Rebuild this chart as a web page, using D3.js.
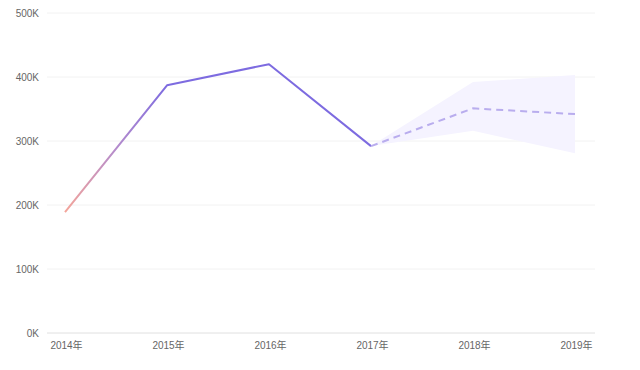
<!DOCTYPE html>
<html><head><meta charset="utf-8">
<script src="https://cdn.jsdelivr.net/npm/d3@7/dist/d3.min.js"></script>
<style>body{margin:0;background:#fff}svg{display:block}</style>
</head><body>
<svg id="c" width="640" height="370"></svg>
<script>
const years = ["2014年","2015年","2016年","2017年","2018年","2019年"];
const actual = [189000, 387000, 420000, 292000];
const forecast = [292000, 351000, 342000];
const bandUpper = [292000, 392000, 403000];
const bandLower = [292000, 316000, 281000];
const yTicks = [0, 100000, 200000, 300000, 400000, 500000];

(function () {
const svg = d3.select("#c");
const mLeft = 47, mRight = 595, mTop = 13, mBottom = 333;
const x = d3.scalePoint().domain(years).range([65, 575]);
const y = d3.scaleLinear().domain([0, 500000]).range([mBottom, mTop]);

// grid
svg.append("g").selectAll("line").data(yTicks).join("line")
  .attr("x1", mLeft).attr("x2", mRight)
  .attr("y1", d => y(d)).attr("y2", d => y(d))
  .attr("stroke", d => d === 0 ? "#e0e0e0" : "#f2f2f2").attr("stroke-width", 1);

// y labels
const yAxis = d3.axisLeft(y).tickValues(yTicks).tickSize(0).tickPadding(0)
  .tickFormat(d => (d / 1000) + "K");
const ga = svg.append("g").attr("transform", `translate(39,0)`).call(yAxis);
ga.select(".domain").remove();
ga.selectAll("text").attr("fill", "#666").attr("font-size", 10)
  .attr("font-family", "Helvetica, Arial, 'Noto Sans CJK SC', sans-serif");

// x labels
const xAxis = d3.axisBottom(x).tickSize(0).tickPadding(0);
const gx = svg.append("g").attr("transform", `translate(1,${mBottom + 9})`).call(xAxis);
gx.select(".domain").remove();
gx.selectAll("text").attr("fill", "#666").attr("font-size", 10)
  .attr("font-family", "Helvetica, Arial, 'Noto Sans CJK SC', sans-serif");

// band
const fYears = years.slice(3);
const area = d3.area().x((d, i) => x(fYears[i])).y0((d, i) => y(bandLower[i])).y1(d => y(d));
svg.append("path").datum(bandUpper).attr("d", area).attr("fill", "#f5f3ff");

// gradient
const defs = svg.append("defs");
const grad = defs.append("linearGradient").attr("id", "g1")
  .attr("gradientUnits", "userSpaceOnUse")
  .attr("x1", x(years[0])).attr("x2", x(years[1])).attr("y1", 0).attr("y2", 0);
grad.append("stop").attr("offset", "0%").attr("stop-color", "#f4a59a");
grad.append("stop").attr("offset", "50%").attr("stop-color", "#b58ccc");
grad.append("stop").attr("offset", "100%").attr("stop-color", "#7d6be0");

const line = d3.line().x((d, i) => x(years[i])).y(d => y(d));
svg.append("path").datum(actual).attr("d", line).attr("fill", "none")
  .attr("stroke", "url(#g1)").attr("stroke-width", 2).attr("stroke-linejoin", "round");

const fline = d3.line().x((d, i) => x(fYears[i])).y(d => y(d));
svg.append("path").datum(forecast).attr("d", fline).attr("fill", "none")
  .attr("stroke", "#b9adee").attr("stroke-width", 2).attr("stroke-dasharray", "7,5");
})();
</script>
</body></html>
